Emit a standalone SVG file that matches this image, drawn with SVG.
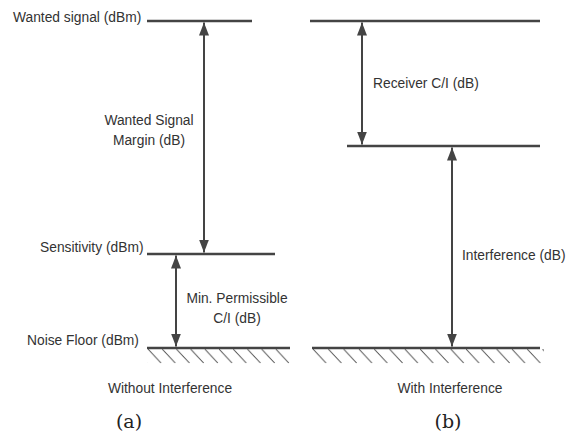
<svg xmlns="http://www.w3.org/2000/svg" width="577" height="436" viewBox="0 0 577 436">
<defs>
<marker id="ah" viewBox="0 0 13 10" refX="13" refY="5" markerWidth="6.5" markerHeight="5" orient="auto-start-reverse" markerUnits="strokeWidth">
<path d="M0,0 L13,5 L0,10 z" fill="#444"/>
</marker>
<pattern id="hatchL" x="148" y="348" width="14.2" height="16" patternUnits="userSpaceOnUse">
<line x1="0" y1="1" x2="13" y2="15" stroke="#555" stroke-width="1.1"/>
</pattern>
<pattern id="hatchR" x="313" y="348" width="15.3" height="16" patternUnits="userSpaceOnUse">
<line x1="0" y1="1" x2="13" y2="15" stroke="#555" stroke-width="1.1"/>
</pattern>
</defs>
<style>
.lvl{stroke:#444;stroke-width:2.7;fill:none}
.arr{stroke:#444;stroke-width:2;fill:none;marker-start:url(#ah);marker-end:url(#ah)}
.t{font-family:"Liberation Sans",Arial,sans-serif;font-size:13.8px;fill:#333}
.c{text-anchor:middle}
.cap{font-family:"DejaVu Serif","Liberation Serif",serif;font-size:19px;fill:#222;text-anchor:middle}
</style>
<rect width="577" height="436" fill="#fff"/>
<g id="panel-a">
<g id="wanted-level"><line class="lvl" x1="147" y1="21" x2="252" y2="21"/><text class="t" x="13" y="22">Wanted signal (dBm)</text></g>
<g id="sensitivity-level"><line class="lvl" x1="147" y1="254" x2="275" y2="254"/><text class="t" x="40" y="252">Sensitivity (dBm)</text></g>
<g id="noise-floor-a"><line class="lvl" x1="147" y1="348" x2="290" y2="348"/><rect x="147" y="349" width="143" height="15" fill="url(#hatchL)"/><text class="t" x="27" y="345">Noise Floor (dBm)</text></g>
<g id="label-margin"><text class="t c" x="149" y="125">Wanted Signal</text><text class="t c" x="149" y="145">Margin (dB)</text></g>
<g id="label-min-ci"><text class="t c" x="237" y="303">Min. Permissible</text><text class="t c" x="237" y="323">C/I (dB)</text></g>
<text class="t c" x="170" y="393">Without Interference</text>
<text class="cap" x="129" y="428">(a)</text>
</g>
<g id="panel-b">
<g id="wanted-level-b"><line class="lvl" x1="310" y1="21" x2="540" y2="21"/></g>
<g id="interference-level"><line class="lvl" x1="347" y1="146" x2="540" y2="146"/></g>
<g id="noise-floor-b"><line class="lvl" x1="312" y1="348" x2="540" y2="348"/><rect x="312" y="349" width="232" height="15" fill="url(#hatchR)"/></g>
<text class="t" x="373" y="88">Receiver C/I (dB)</text>
<text class="t" x="462" y="260">Interference (dB)</text>
<text class="t c" x="450" y="393">With Interference</text>
<text class="cap" x="448" y="428">(b)</text>
</g>
<g id="connectors">
<line class="arr" x1="204" y1="22.5" x2="204" y2="252.5"/>
<line class="arr" x1="176" y1="255.5" x2="176" y2="346.5"/>
<line class="arr" x1="362" y1="22.5" x2="362" y2="144.5"/>
<line class="arr" x1="452" y1="147.5" x2="452" y2="346.5"/>
</g>
</svg>
